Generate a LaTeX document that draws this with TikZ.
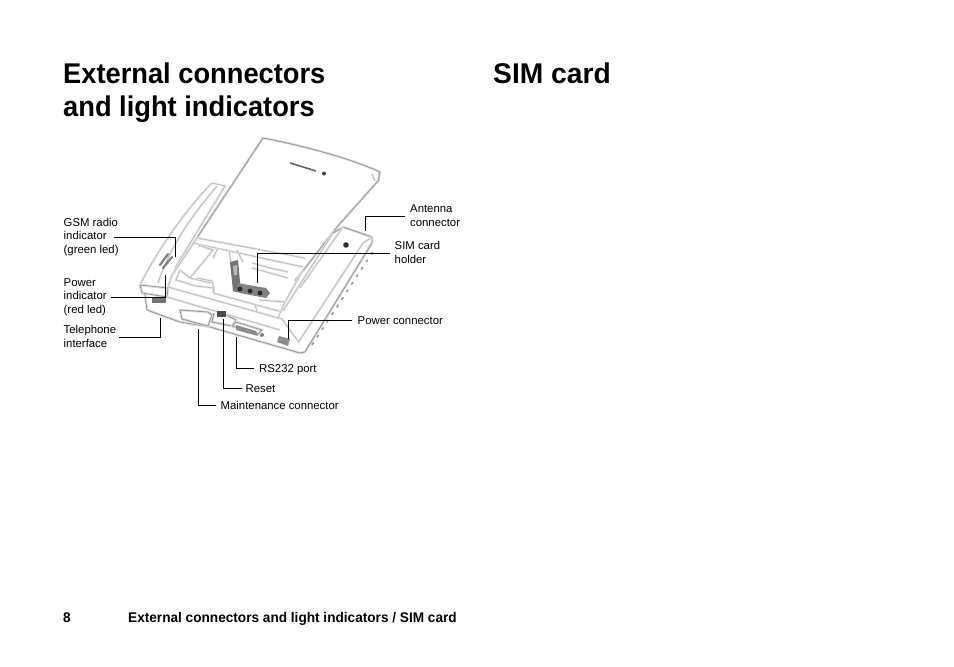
\documentclass[tikz,border=0pt]{standalone}
\usepackage{fontspec}
\setmainfont{Liberation Sans}
\tikzset{
 head/.style={anchor=base west,inner sep=0pt,font=\addfontfeature{FakeStretch=0.957}\bfseries\fontsize{28.5}{33}\selectfont},
 headwide/.style={anchor=base west,inner sep=0pt,font=\addfontfeature{FakeStretch=0.99}\bfseries\fontsize{28.5}{33}\selectfont},
 foot/.style={anchor=base west,inner sep=0pt,font=\addfontfeature{FakeStretch=0.973}\bfseries\fontsize{14}{16}\selectfont},
 lab/.style={anchor=base west,inner sep=0pt,align=left,font=\fontsize{11.35}{13.4}\selectfont},
 leader/.style={draw=black,line width=0.9pt},
 edge1/.style={draw=black!42,line width=0.8pt,line join=round,preaction={draw=black!12,line width=2.6pt}},
 edge2/.style={draw=black!27,line width=0.8pt,line join=round,preaction={draw=black!8,line width=2.4pt}},
}
\begin{document}
\begin{tikzpicture}[x=1pt,y=-1pt]
\useasboundingbox (0,0) rectangle (954,667);
\fill[white] (0,0) rectangle (954,667);
% headings
\node[head] (h1) at (63,83) {External connectors};
\node[head] (h2) at (63,116) {and light indicators};
\node[headwide] (h3) at (493,83) {SIM card};
\node[foot] (f1) at (63,622) {8};
\node[foot] (f2) at (128,622) {External connectors and light indicators / SIM card};
% cover
\draw[edge1] (173,274) -- (263,138) .. controls (300,145) and (350,158) .. (380,172) -- (378,182);
\draw[edge2] (372,174) -- (375,181);
\draw[edge1] (378,181) -- (337,227);
\draw[edge1] (337,227) -- (295,281);
% left rail
\draw[edge2] (212,183) -- (225,186) -- (175,268);
\draw[edge2] (212,183) .. controls (190,205) and (160,245) .. (140,285);
\draw[edge2] (217,186) .. controls (195,212) and (172,242) .. (158,283);
\draw[edge1] (140,285) -- (168,288) -- (167,297) -- (142,293) -- cycle;
% base
\draw[edge1] (145,294) -- (147,310) -- (180,322) -- (210,327) -- (300,353) -- (305,352);
\draw[edge2] (168,287) -- (282,319) -- (298,341);
\draw[edge2] (167,297) -- (280,330);
% right rail
\draw[edge1] (305,352) -- (372,243) -- (372,237) -- (343,227) -- (333,233);
\draw[edge2] (363,243) -- (298,343);
\draw[edge2] (372,237) -- (363,243);
\draw[edge2] (333,233) -- (283,311);
\draw[edge2] (343,227) -- (300,288);
\draw[black!40,line width=1.6pt,dash pattern=on 3pt off 6pt] (312,345) -- (374,250);
% compartment
\draw[edge2] (197,238) -- (305,258);
\draw[edge2] (193,243) -- (303,267);
\draw[edge2] (197,238) -- (172,275) -- (168,287);
\draw[edge2] (198,245) -- (213,250) -- (190,278);
\draw[edge2] (180,270) -- (190,278) -- (211,283);
\draw[edge2] (180,270) -- (176,280) -- (196,286) -- (214,288) -- (213,293);
\draw[edge2] (197,278) -- (212,281) -- (214,288);
\draw[edge2] (213,293) -- (282,312);
\draw[edge2] (218,248) -- (213,258);
\draw[edge2] (229,250) -- (232,270);
\draw[edge2] (237,250) -- (243,262);
\draw[edge2] (252,263) -- (270,268) -- (288,272);
\draw[edge2] (252,268) -- (288,278);
\draw[edge2] (285,302) -- (303,270);
\draw[edge2] (259,300) -- (285,302) -- (278,318);
\draw[edge2] (255,304) -- (257,312) -- (278,318);
% SIM holder
\fill[black!55] (230,262) -- (238,260) -- (241,293) -- (233,291) -- cycle;
\fill[black!28] (233,266) -- (237,265) -- (237,275) -- (234,275) -- cycle;
\fill[black!50] (237,283) -- (266,288) -- (270,293) -- (266,298) -- (240,293) -- cycle;
\foreach \p in {(240,289),(250,291),(260,293)} \fill[black!85] \p circle (2.4);
% LEDs
\draw[black!50,line width=2.2pt,line cap=round] (160,265) -- (168,254);
\draw[black!50,line width=2.2pt,line cap=round] (163,268) -- (172,257);
% connectors
\fill[black!55] (152,298) rectangle ++(14,5);
\draw[edge1] (180,310) -- (182,319) -- (208,326) -- (212,315) -- (208,312) -- cycle;
\fill[black!70] (217,311) rectangle ++(9,6);
\draw[edge1] (214,313) -- (212,322) -- (232,326) -- (236,320) -- (227,315);
\draw[edge1] (232,326) -- (258,334) -- (262,330) -- (236,322) -- cycle;
\fill[black!45] (236,325) -- (256,331) -- (258,336) -- (236,330) -- cycle;
\fill[black!50] (262,335) circle (2);
\fill[black!45] (279,336) -- (290,339) -- (288,346) -- (277,342) -- cycle;
% antenna and logo
\fill[black!80] (346,245) circle (2.8);
\draw[black!60,line width=1.6pt] (290,163) -- (316,171);
\fill[black!75] (324,173.5) circle (2);
% labels
\node[lab] (gsm) at (63.5,253) {GSM radio\\indicator\\(green led)};
\node[lab] (pow) at (63.5,313) {Power\\indicator\\(red led)};
\node[lab] (tel) at (63.5,347) {Telephone\\interface};
\node[lab] (ant) at (410,226) {Antenna\\connector};
\node[lab] (sim) at (394.5,263) {SIM card\\holder};
\node[lab] (pc) at (357.5,324) {Power connector};
\node[lab] (rs) at (259,372) {RS232 port};
\node[lab] (rst) at (245.5,392) {Reset};
\node[lab] (mc) at (220.5,409) {Maintenance connector};
% leader elbows
\coordinate (gsmA) at (114,237.5);
\coordinate (gsmB) at (175.5,237.5);
\coordinate (gsmC) at (175.5,257);
\draw[leader] (gsmA) -- (gsmB) -- (gsmC);
\coordinate (powA) at (111,297);
\coordinate (powB) at (165.5,297);
\coordinate (powC) at (165.5,275);
\draw[leader] (powA) -- (powB) -- (powC);
\coordinate (telA) at (119,337);
\coordinate (telB) at (160.5,337);
\coordinate (telC) at (160.5,318);
\draw[leader] (telA) -- (telB) -- (telC);
\coordinate (antA) at (405,216);
\coordinate (antB) at (365.5,216);
\coordinate (antC) at (365.5,231);
\draw[leader] (antA) -- (antB) -- (antC);
\coordinate (simA) at (390,253);
\coordinate (simB) at (257.5,253);
\coordinate (simC) at (257.5,283);
\draw[leader] (simA) -- (simB) -- (simC);
\coordinate (pcA) at (352,320);
\coordinate (pcB) at (288.5,320);
\coordinate (pcC) at (288.5,339);
\draw[leader] (pcA) -- (pcB) -- (pcC);
\coordinate (rsA) at (254,368);
\coordinate (rsB) at (236.5,368);
\coordinate (rsC) at (236.5,337);
\draw[leader] (rsA) -- (rsB) -- (rsC);
\coordinate (rstA) at (242,388);
\coordinate (rstB) at (223.5,388);
\coordinate (rstC) at (223.5,319);
\draw[leader] (rstA) -- (rstB) -- (rstC);
\coordinate (mcA) at (216,405);
\coordinate (mcB) at (198.5,405);
\coordinate (mcC) at (198.5,329);
\draw[leader] (mcA) -- (mcB) -- (mcC);
\end{tikzpicture}
\end{document}
